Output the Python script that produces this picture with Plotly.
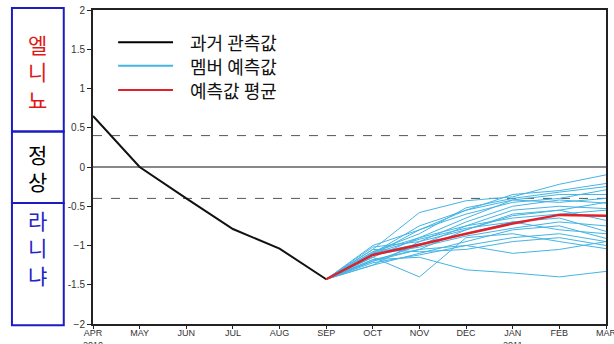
import plotly.graph_objects as go

months = ["APR<br>2010", "MAY", "JUN", "JUL", "AUG", "SEP", "OCT", "NOV", "DEC", "JAN<br>2011", "FEB", "MAR"]
y_ticks = [2, 1.5, 1, 0.5, 0, -0.5, -1, -1.5, -2]
y_tick_text = ["2", "1.5", "1", "0.5", "0", "-0.5", "\u22121", "-1.5", "\u22122"]

observed = [0.65, 0.0, -0.40, -0.79, -1.04, -1.43]   # APR..SEP
forecast_months_idx = [5, 6, 7, 8, 9, 10, 11]          # SEP..MAR
ensemble_mean = [-1.43, -1.12, -0.99, -0.85, -0.72, -0.61, -0.62]

members = [
    [-1.05, -0.58, -0.43, -0.38, -0.22, -0.10],
    [-1.10, -0.75, -0.55, -0.35, -0.30, -0.21],
    [-1.08, -0.85, -0.52, -0.40, -0.32, -0.25],
    [-1.12, -0.80, -0.60, -0.45, -0.40, -0.29],
    [-1.15, -0.90, -0.65, -0.42, -0.45, -0.40],
    [-1.02, -0.95, -0.70, -0.50, -0.42, -0.46],
    [-1.20, -1.00, -0.75, -0.55, -0.50, -0.53],
    [-1.18, -1.05, -0.80, -0.60, -0.55, -0.68],
    [-1.10, -0.98, -0.85, -0.70, -0.65, -0.82],
    [-1.25, -1.10, -0.95, -0.80, -0.75, -0.91],
    [-1.15, -1.40, -0.90, -0.85, -0.95, -1.04],
    [-1.18, -1.15, -1.31, -1.35, -1.40, -1.33],
    [-1.05, -1.08, -1.05, -0.95, -0.90, -1.00],
    [-1.22, -1.12, -1.00, -0.90, -0.85, -0.95],
    [-1.08, -0.90, -0.75, -0.65, -0.60, -0.55],
    [-1.12, -1.02, -0.88, -0.78, -0.70, -0.75],
    [-1.00, -0.80, -0.55, -0.42, -0.35, -0.35],
    [-1.20, -1.05, -1.00, -1.10, -1.05, -0.95],
    [-1.25, -0.95, -0.80, -0.62, -0.55, -0.45],
    [-1.10, -0.92, -0.78, -0.70, -0.80, -0.85],
]

legend_labels = ["과거 관측값", "멤버 예측값", "예측값 평균"]
legend_colors = ["#000000", "#45b4e4", "#e0202a"]
side_labels = ["엘<br>니<br>뇨", "정<br>상", "라<br>니<br>냐"]
side_colors = ["#e01818", "#000000", "#2424c8"]

fig = go.Figure()
for m in members:
    fig.add_trace(go.Scatter(x=forecast_months_idx, y=[observed[-1]] + m, mode="lines",
                             line=dict(color="#45b4e4", width=1), showlegend=False, hoverinfo="skip"))
fig.add_trace(go.Scatter(x=list(range(len(observed))), y=observed, mode="lines",
                         line=dict(color="#111111", width=2), showlegend=False))
fig.add_trace(go.Scatter(x=forecast_months_idx, y=ensemble_mean, mode="lines",
                         line=dict(color="#e0202a", width=2.5), showlegend=False))

shapes = [
    dict(type="line", xref="paper", yref="y", x0=0, x1=1, y0=0, y1=0, line=dict(color="#111", width=1), layer="below"),
    dict(type="line", xref="paper", yref="y", x0=0, x1=1, y0=0.4, y1=0.4, line=dict(color="#555", width=1, dash="dash"), layer="below"),
    dict(type="line", xref="paper", yref="y", x0=0, x1=1, y0=-0.4, y1=-0.4, line=dict(color="#555", width=1, dash="dash"), layer="below"),
]
# side boxes (paper coords)
bx0, bx1 = -0.158, -0.057
box_bounds = [(1.006, 0.613), (0.613, 0.385), (0.385, -0.004)]
text_centers = [0.805, 0.50, 0.245]
for (ya, yb) in box_bounds:
    shapes.append(dict(type="rect", xref="paper", yref="paper", x0=bx0, x1=bx1, y0=yb, y1=ya,
                       line=dict(color="#1c1cc0", width=2)))
annotations = []
for yc, txt, col in zip(text_centers, side_labels, side_colors):
    annotations.append(dict(xref="paper", yref="paper", x=(bx0 + bx1) / 2, y=yc, text=txt,
                            xanchor="center", yanchor="middle",
                            showarrow=False, font=dict(family="Noto Sans CJK KR", size=21, color=col),
                            align="center"))
# manual legend
leg_y = [1.59, 1.29, 0.98]
for yy, lab, col in zip(leg_y, legend_labels, legend_colors):
    shapes.append(dict(type="line", xref="paper", yref="y", x0=0.049, x1=0.156, y0=yy, y1=yy,
                       line=dict(color=col, width=2)))
    annotations.append(dict(xref="paper", yref="y", x=0.185, y=yy, text=lab, showarrow=False,
                            xanchor="left", yanchor="middle",
                            font=dict(family="Noto Sans CJK KR", size=18, color="#111")))

fig.update_layout(
    width=614, height=344,
    margin=dict(l=93, r=8, t=10, b=20, autoexpand=False),
    paper_bgcolor="white", plot_bgcolor="white",
    shapes=shapes, annotations=annotations,
    showlegend=False,
    xaxis=dict(range=[0, 11], tickmode="array", tickvals=list(range(12)), ticktext=months,
               showgrid=False, zeroline=False, showline=True, linecolor="#222", linewidth=2, mirror=True,
               ticks="outside", ticklen=3, tickcolor="#222", automargin=False,
               ticklabeloverflow="allow", ticklabelstandoff=-4,
               tickfont=dict(family="Liberation Sans Narrow, Arial", size=9, color="#333")),
    yaxis=dict(range=[-2, 2], tickmode="array", tickvals=y_ticks, ticktext=y_tick_text,
               showgrid=False, zeroline=False, showline=True, linecolor="#222", linewidth=2, mirror=True,
               ticks="outside", ticklen=4, tickcolor="#222", automargin=False,
               ticklabeloverflow="allow",
               tickfont=dict(family="Liberation Sans, Arial", size=10, color="#333")),
)
fig.write_html("out.html", config={"displayModeBar": False},
               post_script="document.body.style.margin='0';document.body.style.overflow='hidden';")
